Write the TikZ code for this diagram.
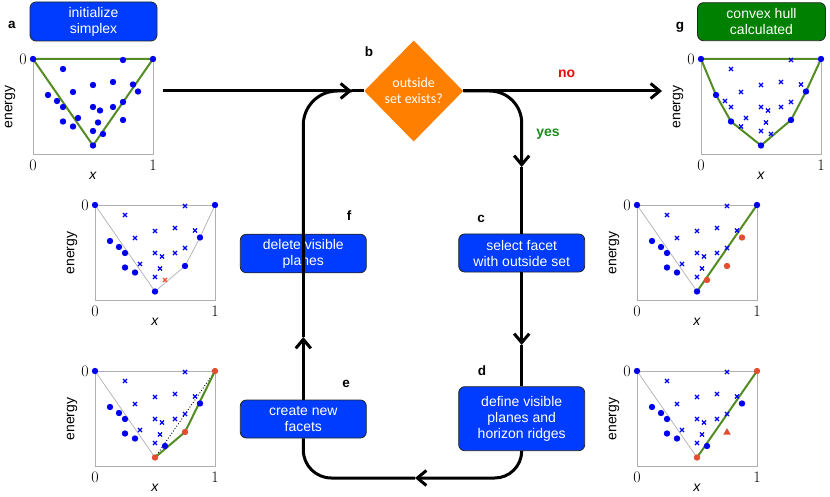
\documentclass[tikz,border=0pt]{standalone}
\usepackage{fontspec}
\usetikzlibrary{arrows.meta,shapes.geometric,positioning}
\newfontfamily\arialfont{Liberation Sans}
\newfontfamily\calfont{Carlito}
\definecolor{BoxClr}{RGB}{0,60,255}
\definecolor{DoneClr}{RGB}{0,128,0}
\definecolor{TestClr}{RGB}{255,128,0}
\definecolor{PtClr}{RGB}{0,0,240}
\definecolor{NewClr}{RGB}{226,78,46}
\definecolor{HullClr}{RGB}{84,140,36}
\definecolor{FrameClr}{RGB}{175,175,175}
\definecolor{NoClr}{RGB}{232,10,10}
\definecolor{YesClr}{RGB}{30,140,30}

\tikzset{
  stepbox/.style={draw=black!85,line width=0.8pt,rounded corners=6pt,fill=BoxClr,text=white,
    align=center,inner sep=0pt,minimum width=126pt,font=\arialfont\fontsize{14}{16}\selectfont},
  testbox/.style={diamond,fill=TestClr,text=white,align=center,inner sep=0pt,
    minimum width=99pt,minimum height=101pt,font=\calfont\fontsize{14}{15.7}\selectfont},
  flow/.style={line width=3pt,>={Straight Barb[length=9pt,width=15pt]}},
  panel/.style={font=\arialfont\bfseries\fontsize{13.5}{13.5}\selectfont},
  answer/.style={font=\arialfont\bfseries\fontsize{14}{14}\selectfont},
  tick/.style={inner sep=0pt,font=\fontsize{16}{16}\selectfont},
  axlab/.style={inner sep=0pt,font=\arialfont\fontsize{14}{14}\selectfont},
  frame/.style={draw=FrameClr,line width=0.8pt},
  facet/.style={FrameClr,line width=0.7pt},
  hull/.style={HullClr,line width=2pt,line join=round}
}

\newcommand\DefPts{%
  \coordinate (p1) at (0,0);      \coordinate (p2) at (90,1);
  \coordinate (p3) at (120,0);    \coordinate (p4) at (30,10);
  \coordinate (p5) at (60,26);    \coordinate (p6) at (80,23);
  \coordinate (p7) at (100,25.5); \coordinate (p8) at (105,32.5);
  \coordinate (p9) at (40,33);    \coordinate (p10) at (15,36);
  \coordinate (p11) at (24,42);   \coordinate (p12) at (30,48);
  \coordinate (p13) at (60,48);   \coordinate (p14) at (67,51.5);
  \coordinate (p15) at (80,48);   \coordinate (p16) at (90,43);
  \coordinate (p17) at (45,59);   \coordinate (p18) at (30,62.5);
  \coordinate (p19) at (40,67.5); \coordinate (p20) at (65,63.5);
  \coordinate (p21) at (90,61);   \coordinate (p22) at (60,72);
  \coordinate (p23) at (70,75);   \coordinate (p24) at (60,86.5);
}
\newcommand\PlotFrame[1]{%
  \draw[frame] (0,0) rectangle (120,95);
  \node[tick] (#1-y0) at (-10,0) {0};
  \node[tick] (#1-x0) at (0,106) {0};
  \node[tick] (#1-x1) at (120,106) {1};
  \node[axlab] (#1-x) at (60,117) {\textit{x}};
  \node[axlab,rotate=90] (#1-e) at (-23,48) {energy};
}
\newcommand\Dots[2][PtClr]{\foreach \pp in {#2} {\fill[#1] (\pp) circle (3.2);}}
\newcommand\Crosses[2][PtClr]{\foreach \pp in {#2}
  {\draw[#1,line width=1.1pt] (\pp) ++(-2.1,-2.1) -- ++(4.2,4.2) ++(-4.2,0) -- ++(4.2,-4.2);}}

\begin{document}
\begin{tikzpicture}[x=1pt,y=-1pt]
\useasboundingbox (0,0) rectangle (830,497);

\node[stepbox,minimum width=127pt,minimum height=39pt] (init) at (93.5,21.5) {initialize\\simplex};
\node[stepbox,fill=DoneClr,minimum width=128pt,minimum height=38pt] (done) at (761.5,21.7) {convex hull\\calculated};
\node[testbox] (test) at (413.7,91) {outside\\set exists?};
\node[stepbox,minimum height=38.5pt] (delete) at (303.3,253.5) {delete visible\\planes};
\node[stepbox,minimum height=38pt] (select) at (521.7,253) {select facet\\with outside set};
\node[stepbox,minimum height=38pt] (create) at (303.3,419) {create new\\facets};
\node[stepbox,minimum height=64pt] (define) at (521.7,418.7) {define visible\\planes and\\horizon ridges};

\node[panel] (la) at (12,25) {a};
\node[panel] (lb) at (369,52) {b};
\node[panel] (lc) at (481,219) {c};
\node[panel] (ld) at (482,371) {d};
\node[panel] (le) at (346,384) {e};
\node[panel] (lf) at (349,216) {f};
\node[panel] (lg) at (680,27) {g};
\node[answer,text=NoClr] (no) at (566.7,73.5) {no};
\node[answer,text=YesClr] (yes) at (548,134) {yes};

\coordinate (start) at (163,91);
\coordinate (merge) at (352,91);
\coordinate (noend) at (662,91);
\coordinate (yesarr) at (521.7,167);
\coordinate (cdarr) at (521.7,345);
\coordinate (botarr) at (415,478);
\coordinate (efarr) at (303.3,337);

\draw[flow,->] (start) -- (merge);
\draw[flow] (merge) -- (test.west);
\draw[flow,->] (test.east) -- (noend);
\draw[flow,->,rounded corners=32pt] (test.east) -| (yesarr);
\draw[flow] (yesarr) -- (select.north);
\draw[flow,->] (select.south) -- (cdarr);
\draw[flow] (cdarr) -- (define.north);
\draw[flow,->,rounded corners=27pt] (define.south) |- (botarr);
\draw[flow,rounded corners=28pt] (botarr) -| (create.south);
\draw[flow,->] (create.north) -- (efarr);
\draw[flow] (efarr) -- (delete.north);
\draw[flow,rounded corners=34pt] (delete.north) |- (merge);

\begin{scope}[shift={(33,59)}]
\DefPts \PlotFrame{pa}
\draw[hull] (p1) -- (p3) -- (p24) -- cycle;
\Dots{p1,p2,p3,p4,p5,p6,p7,p8,p9,p10,p11,p12,p13,p14,p15,p16,p17,p18,p19,p20,p21,p22,p23,p24}
\end{scope}

\begin{scope}[shift={(701,59)}]
\DefPts \PlotFrame{pg}
\draw[hull] (p1) -- (p10) -- (p18) -- (p24) -- (p21) -- (p8) -- (p3) -- cycle;
\Crosses{p2,p4,p5,p6,p7,p9,p11,p12,p13,p14,p15,p16,p17,p19,p20,p22,p23}
\Dots{p1,p10,p18,p24,p21,p8,p3}
\end{scope}

\begin{scope}[shift={(95,205)}]
\DefPts \PlotFrame{pf}
\draw[facet] (p1) -- (p24) -- (p21) -- (p8) -- (p3);
\Crosses{p2,p4,p5,p6,p7,p9,p13,p14,p15,p16,p17,p20,p22}
\Crosses[NewClr]{p23}
\Dots{p1,p3,p10,p11,p12,p18,p19,p24,p21,p8}
\end{scope}

\begin{scope}[shift={(637,205)}]
\DefPts \PlotFrame{pc}
\draw[facet] (p1) -- (p24);
\draw[hull] (p24) -- (p3);
\Crosses{p2,p4,p5,p6,p7,p9,p13,p14,p15,p16,p17,p20,p22}
\Dots{p1,p3,p10,p11,p12,p18,p19,p24}
\Dots[NewClr]{p8,p21,p23}
\end{scope}

\begin{scope}[shift={(95,371)}]
\DefPts \PlotFrame{pe}
\draw[facet] (p1) -- (p24);
\draw[dotted,line width=0.9pt] (p24) -- (p3);
\draw[hull] (p24) -- (p21) -- (p3);
\Crosses{p2,p4,p5,p6,p7,p9,p13,p14,p15,p16,p17,p20,p22}
\Dots{p1,p10,p11,p12,p18,p19,p23,p8}
\Dots[NewClr]{p3,p21,p24}
\end{scope}

\begin{scope}[shift={(637,371)}]
\DefPts \PlotFrame{pd}
\draw[facet] (p1) -- (p24);
\draw[hull] (p24) -- (p3);
\Crosses{p2,p4,p5,p6,p7,p9,p13,p14,p15,p16,p17,p20,p22}
\Dots{p1,p10,p11,p12,p18,p19,p23,p8}
\Dots[NewClr]{p3,p24}
\fill[NewClr] (p21) ++(0,-3.8) -- ++(3.8,6.4) -- ++(-7.6,0) -- cycle;
\end{scope}

\end{tikzpicture}
\end{document}
